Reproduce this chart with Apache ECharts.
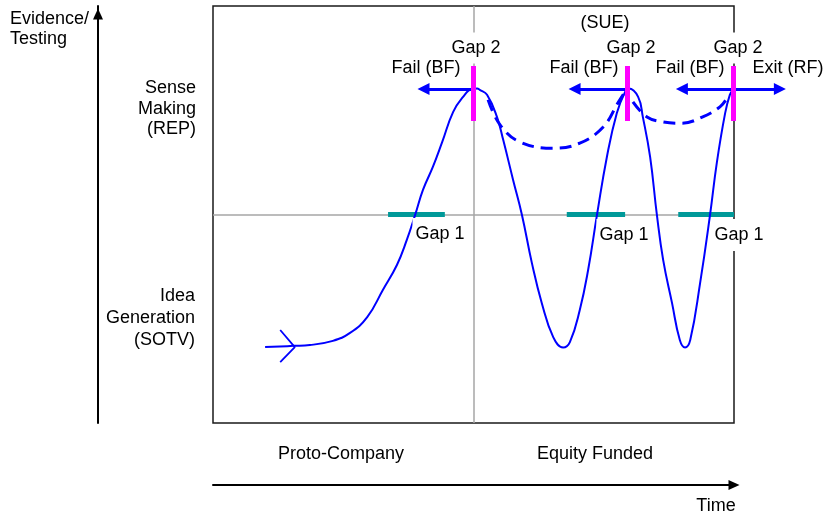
<!DOCTYPE html>
<html><head><meta charset="utf-8">
<script src="https://cdn.jsdelivr.net/npm/echarts@6/dist/echarts.min.js"></script>
<style>html,body{margin:0;padding:0;background:#fff}#c{width:827px;height:517px}</style>
</head><body><div id="c"></div>
<script>
// ---- data (time 0..100 across the box, level 0..100 up the box) ----
const mainPath = [
  [10.0,18.2],[15.4,18.5],[18.6,18.7],[23.0,19.7],[26.3,21.6],[29.6,25.4],[32.6,31.9],[35.3,37.9],
  [37.2,43.9],[38.8,49.9],[40.3,55.9],[42.2,61.4],[44.0,67.4],[46.1,74.6],[48.0,78.2],[49.7,80.1],[50.7,80.2],
  [51.2,79.9],[52.6,78.7],[54.5,73.4],[55.7,67.9],[57.6,58.3],[59.3,49.9],[61.2,38.4],[63.1,28.8],
  [65.3,20.6],[67.2,18.1],[68.5,19.4],[70.4,27.1],[72.0,36.7],[73.7,49.9],[75.6,63.8],[77.5,74.3],
  [79.1,79.4],[79.8,80.2],[81.6,78.2],[82.5,73.4],[83.9,63.8],[85.2,49.9],[86.4,39.1],[88.1,28.8],
  [89.6,19.9],[90.6,18.1],[91.6,19.9],[93.5,33.6],[95.4,49.9],[96.7,62.4],[98.3,74.3],[99.2,78.7],[99.8,79.9]
];
const loopBackA = [[52.8,77.5],[55.1,71.5],[58.9,67.4],[65.3,65.9],[70.4,67.1],[74.9,71.0],[77.7,76.7],[78.9,79.1]];
const loopBackB = [[80.6,77.0],[83.3,73.4],[86.4,72.2],[90.0,71.9],[94.0,73.4],[97.3,75.8],[98.7,78.0]];
const startChevron = [[12.9,22.3],[15.7,18.2],[12.9,14.6]];
const quadrantSplit = 50;
const gap2Times = [50, 79.5, 99.8];
const gap2Span = [72.4, 85.6];
const decisionLevel = 80.1;
const failTargets = [40.4, 69.4, 90.0];
const exitTarget = 108.8;
const gap1Level = 50.1;
const gap1Spans = [[33.6,44.5],[67.9,79.1],[89.3,100]];

const FONT = '"Liberation Sans", Arial, sans-serif';
const blue = '#0000ff';

function txt(text, x, y, align, extra) {
  return {
    type: 'text', x: x, y: y, z: 100,
    style: Object.assign({
      text: text, fill: '#000', font: '18px ' + FONT,
      align: align || 'center', verticalAlign: 'middle'
    }, extra || {})
  };
}

const chart = echarts.init(document.getElementById('c'), null, {renderer: 'canvas'});
const option = {
  animation: false,
  backgroundColor: '#fff',
  textStyle: {fontFamily: FONT},
  grid: {left: 213, right: 93, top: 6, bottom: 94, show: true, borderColor: '#1a1a1a', borderWidth: 1.5},
  xAxis: {
    type: 'value', min: 0, max: 100, position: 'bottom', offset: 62,
    axisLine: {show: true, onZero: false, lineStyle: {color: '#000', width: 2},
      symbol: ['none', 'triangle'], symbolSize: [10, 11]},
    axisTick: {show: false}, axisLabel: {show: false}, splitLine: {show: false}
  },
  yAxis: {
    type: 'value', min: 0, max: 100, position: 'left', offset: 115,
    axisLine: {show: true, onZero: false, lineStyle: {color: '#000', width: 2},
      symbol: ['none', 'triangle'], symbolSize: [10, 11], symbolOffset: [0, -8]},
    axisTick: {show: false}, axisLabel: {show: false}, splitLine: {show: false}
  },
  series: [
    {type: 'lines', coordinateSystem: 'cartesian2d', z: 1, silent: true,
      lineStyle: {color: '#a6a6a6', width: 1.5, opacity: 1},
      data: [{coords: [[quadrantSplit, 0], [quadrantSplit, 100]]}, {coords: [[0, quadrantSplit], [100, quadrantSplit]]}]},
    {type: 'lines', coordinateSystem: 'cartesian2d', z: 3, silent: true,
      lineStyle: {color: '#009999', width: 5, opacity: 1},
      data: gap1Spans.map(s => ({coords: [[s[0], gap1Level], [s[1], gap1Level]]}))},
    {type: 'line', data: mainPath, showSymbol: false, smooth: 0.45, z: 4,
      lineStyle: {color: blue, width: 2}},
    {type: 'line', data: startChevron, showSymbol: false, z: 4,
      lineStyle: {color: blue, width: 1.8}},
    {type: 'line', data: loopBackA, showSymbol: false, smooth: 0.4, z: 4,
      lineStyle: {color: blue, width: 3, type: [12, 7]}},
    {type: 'line', data: loopBackB, showSymbol: false, smooth: 0.4, z: 4,
      lineStyle: {color: blue, width: 3, type: [12, 7]}},
    {type: 'lines', coordinateSystem: 'cartesian2d', z: 5, silent: true, clip: false,
      symbol: ['none', 'triangle'], symbolSize: 12,
      lineStyle: {color: blue, width: 3, opacity: 1},
      data: gap2Times.map((t, i) => ({coords: [[t, decisionLevel], [failTargets[i], decisionLevel]]}))
        .concat([{coords: [[gap2Times[2], decisionLevel], [exitTarget, decisionLevel]]}])},
    {type: 'lines', coordinateSystem: 'cartesian2d', z: 6, silent: true,
      lineStyle: {color: '#ff00ff', width: 5, opacity: 1},
      data: gap2Times.map(t => ({coords: [[t, gap2Span[0]], [t, gap2Span[1]]]}))}
  ],
  graphic: [
    txt('Evidence/\nTesting', 10, 29.5, 'left', {lineHeight: 20}),
    txt('Sense\nMaking\n(REP)', 196, 109, 'right', {lineHeight: 20.5}),
    txt('Idea\nGeneration\n(SOTV)', 195, 318, 'right', {lineHeight: 22}),
    txt('Proto-Company', 341, 454),
    txt('Equity Funded', 595, 454),
    txt('Time', 716, 506),
    txt('(SUE)', 605, 23),
    txt('Gap 2', 476, 48, 'center', {backgroundColor: '#fff', padding: [3, 3, 10, 3]}),
    txt('Gap 2', 631, 48, 'center', {backgroundColor: '#fff', padding: [3, 3, 10, 3]}),
    txt('Gap 2', 738, 48, 'center', {backgroundColor: '#fff', padding: [3, 3, 10, 3]}),
    txt('Fail (BF)', 426, 68),
    txt('Fail (BF)', 584, 68),
    txt('Fail (BF)', 690, 68),
    txt('Exit (RF)', 788, 68),
    txt('Gap 1', 440, 234, 'center', {backgroundColor: '#fff', padding: [8, 3, 6, 3]}),
    txt('Gap 1', 624, 235, 'center', {backgroundColor: '#fff', padding: [8, 3, 6, 3]}),
    txt('Gap 1', 739, 235, 'center', {backgroundColor: '#fff', padding: [8, 3, 6, 3]})
  ]
};
chart.setOption(option);
</script>
</body></html>
